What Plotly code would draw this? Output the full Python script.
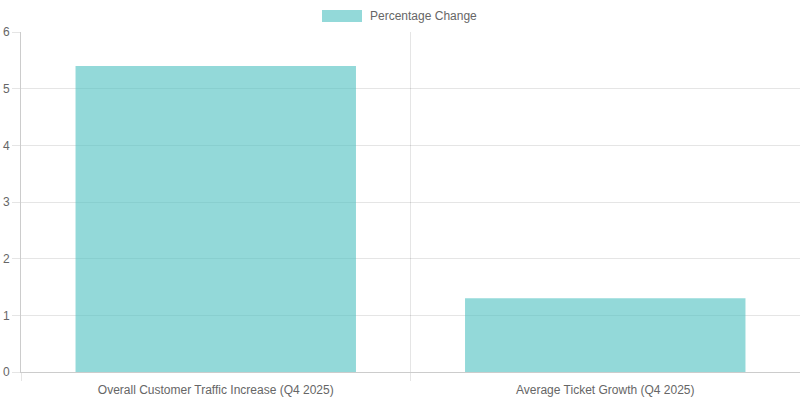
import plotly.graph_objects as go

categories = ["Overall Customer Traffic Increase (Q4 2025)", "Average Ticket Growth (Q4 2025)"]
values = [5.4, 1.3]
series_name = "Percentage Change"
y_ticks = [0, 1, 2, 3, 4, 5, 6]

fill = "rgba(75,192,192,0.6)"
grid = "rgba(0,0,0,0.1)"
font = dict(family="Liberation Sans, Arial, Helvetica, sans-serif", size=12, color="#666")

fig = go.Figure(go.Bar(
    x=categories, y=values, name=series_name,
    marker=dict(color=fill, line=dict(width=0)),
    width=0.72, showlegend=False,
))

fig.update_layout(
    width=800, height=400,
    margin=dict(l=21, r=0, t=32, b=28),
    paper_bgcolor="white", plot_bgcolor="white",
    font=font,
    xaxis=dict(
        type="category", range=[-0.5, 1.5],
        tickson="boundaries", ticks="outside", ticklen=8, tickcolor=grid,
        showgrid=True, gridcolor=grid, gridwidth=1,
        showline=True, linecolor="rgba(0,0,0,0.2)", linewidth=1,
        tickfont=font, ticklabelstandoff=7, fixedrange=True,
    ),
    yaxis=dict(
        range=[0, 6], tickvals=y_ticks,
        ticks="outside", ticklen=8, tickcolor=grid,
        showgrid=True, gridcolor=grid, gridwidth=1,
        zeroline=False,
        showline=True, linecolor="rgba(0,0,0,0.2)", linewidth=1,
        tickfont=font, ticklabelstandoff=0, fixedrange=True,
    ),
    shapes=[dict(
        type="rect", xref="paper", yref="paper",
        x0=(322 - 21) / 779, x1=(362 - 21) / 779,
        y0=1 + (32 - 22) / 340, y1=1 + (32 - 10) / 340,
        fillcolor=fill, line=dict(width=0),
    )],
    annotations=[dict(
        text=series_name, xref="paper", yref="paper",
        x=(368 - 21) / 779, y=1 + (32 - 16) / 340,
        xanchor="left", yanchor="middle", showarrow=False, font=font,
    )],
)

fig.write_html("out.html", config={"displayModeBar": False})
